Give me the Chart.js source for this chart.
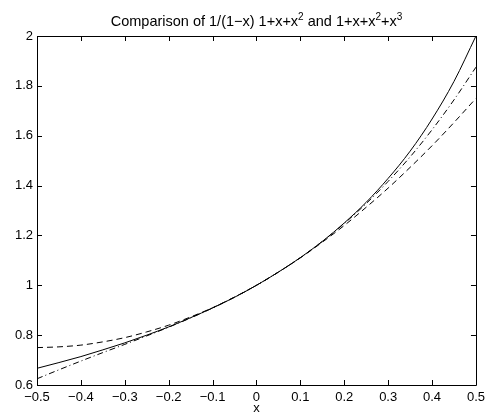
<!DOCTYPE html>
<html>
<head>
<meta charset="utf-8">
<script src="https://cdn.jsdelivr.net/npm/chart.js@4"></script>
<style>
html,body{margin:0;padding:0;background:#fff;}
#wrap{width:490px;height:416px;position:relative;}
</style>
</head>
<body>
<div id="wrap"><canvas id="c" width="490" height="416"></canvas></div>
<script>
// x positions sampled along the curves
const xs = [-0.5,-0.45,-0.4,-0.35,-0.3,-0.25,-0.2,-0.15,-0.1,-0.05,0,0.05,0.1,0.15,0.2,0.25,0.3,0.35,0.4,0.45,0.5];
// 1/(1-x)  (solid)
const yExact = [0.667,0.690,0.714,0.741,0.769,0.800,0.833,0.870,0.909,0.952,1.000,1.053,1.111,1.176,1.250,1.333,1.429,1.538,1.667,1.818,2.000];
// 1+x+x^2  (dashed)
const yQuad = [0.750,0.753,0.760,0.773,0.790,0.813,0.840,0.873,0.910,0.953,1.000,1.053,1.110,1.173,1.240,1.313,1.390,1.473,1.560,1.653,1.750];
// 1+x+x^2+x^3 (dash-dot)
const yCubic = [0.625,0.661,0.696,0.730,0.763,0.797,0.832,0.869,0.909,0.952,1.000,1.053,1.111,1.176,1.248,1.328,1.417,1.515,1.624,1.744,1.875];
const xTicks = [-0.5,-0.4,-0.3,-0.2,-0.1,0,0.1,0.2,0.3,0.4,0.5];
const yTicks = [0.6,0.8,1,1.2,1.4,1.6,1.8,2];

const FONT = 'Liberation Sans, Arial, Helvetica, sans-serif';

function fmt(v){
  let s = (Math.round(v*10)/10).toString();
  return s.replace('-', '\u2212');
}

const frame = {
  id:'frame',
  afterDatasetsDraw(chart){
    const {ctx, chartArea:a, scales:{x, y}} = chart;
    ctx.save();
    ctx.strokeStyle = '#000';
    ctx.lineWidth = 1;
    ctx.beginPath();
    ctx.rect(Math.round(a.left)+0.5, Math.round(a.top)+0.5, Math.round(a.right-a.left), Math.round(a.bottom-a.top));
    ctx.stroke();
    const L = 5;
    ctx.beginPath();
    xTicks.forEach(v=>{
      const px = Math.round(x.getPixelForValue(v))+0.5;
      ctx.moveTo(px, a.bottom); ctx.lineTo(px, a.bottom-L);
      ctx.moveTo(px, a.top); ctx.lineTo(px, a.top+L);
    });
    yTicks.forEach(v=>{
      const py = Math.round(y.getPixelForValue(v))+0.5;
      ctx.moveTo(a.left, py); ctx.lineTo(a.left+L, py);
      ctx.moveTo(a.right, py); ctx.lineTo(a.right-L, py);
    });
    ctx.stroke();
    // title with superscripts
    const parts = [
      ['Comparison of 1/(1\u2212x) 1+x+x',0],['2',1],[' and 1+x+x',0],['2',1],['+x',0],['3',1]
    ];
    const big = '14.5px '+FONT, small = '10px '+FONT;
    let w = 0;
    parts.forEach(p=>{ctx.font = p[1]?small:big; w += ctx.measureText(p[0]).width;});
    let cx = (a.left+a.right)/2 - w/2;
    const base = 26;
    ctx.fillStyle = '#000';
    ctx.textBaseline = 'alphabetic';
    ctx.textAlign = 'left';
    parts.forEach(p=>{
      ctx.font = p[1]?small:big;
      ctx.fillText(p[0], cx, p[1]? base-6 : base);
      cx += ctx.measureText(p[0]).width;
    });
    ctx.restore();
  }
};

const mk = (ys)=> xs.map((x,i)=>({x, y: ys[i]}));

new Chart(document.getElementById('c'), {
  type:'line',
  data:{datasets:[
    {data: mk(yExact), borderColor:'#000', borderWidth:1, pointRadius:0, cubicInterpolationMode:'monotone'},
    {data: mk(yQuad), borderColor:'#000', borderWidth:1, pointRadius:0, borderDash:[6,4], cubicInterpolationMode:'monotone'},
    {data: mk(yCubic), borderColor:'#000', borderWidth:1, pointRadius:0, borderDash:[6,3,1,3], cubicInterpolationMode:'monotone'}
  ]},
  options:{
    responsive:false, animation:false, devicePixelRatio:1,
    layout:{padding:{top:36, right:9, left:0, bottom:0}},
    plugins:{legend:{display:false}, tooltip:{enabled:false}, title:{display:false}},
    scales:{
      x:{type:'linear', min:-0.5, max:0.5,
        afterBuildTicks(s){ s.ticks = xTicks.map(v=>({value:v})); },
        afterFit(s){ s.height = 31; },
        grid:{display:false, drawTicks:false}, border:{display:false},
        ticks:{color:'#000', font:{family:FONT, size:13}, padding:5, maxRotation:0, autoSkip:false, callback:(v)=>fmt(v)},
        title:{display:true, text:'x', color:'#000', font:{family:FONT, size:13}, padding:{top:0,bottom:0}}
      },
      y:{type:'linear', min:0.6, max:2,
        afterBuildTicks(s){ s.ticks = yTicks.map(v=>({value:v})); },
        afterFit(s){ s.width = 37; },
        grid:{display:false, drawTicks:false}, border:{display:false},
        ticks:{color:'#000', font:{family:FONT, size:13}, padding:4, autoSkip:false, callback:(v)=>fmt(v)}
      }
    }
  },
  plugins:[frame]
});
</script>
</body>
</html>
